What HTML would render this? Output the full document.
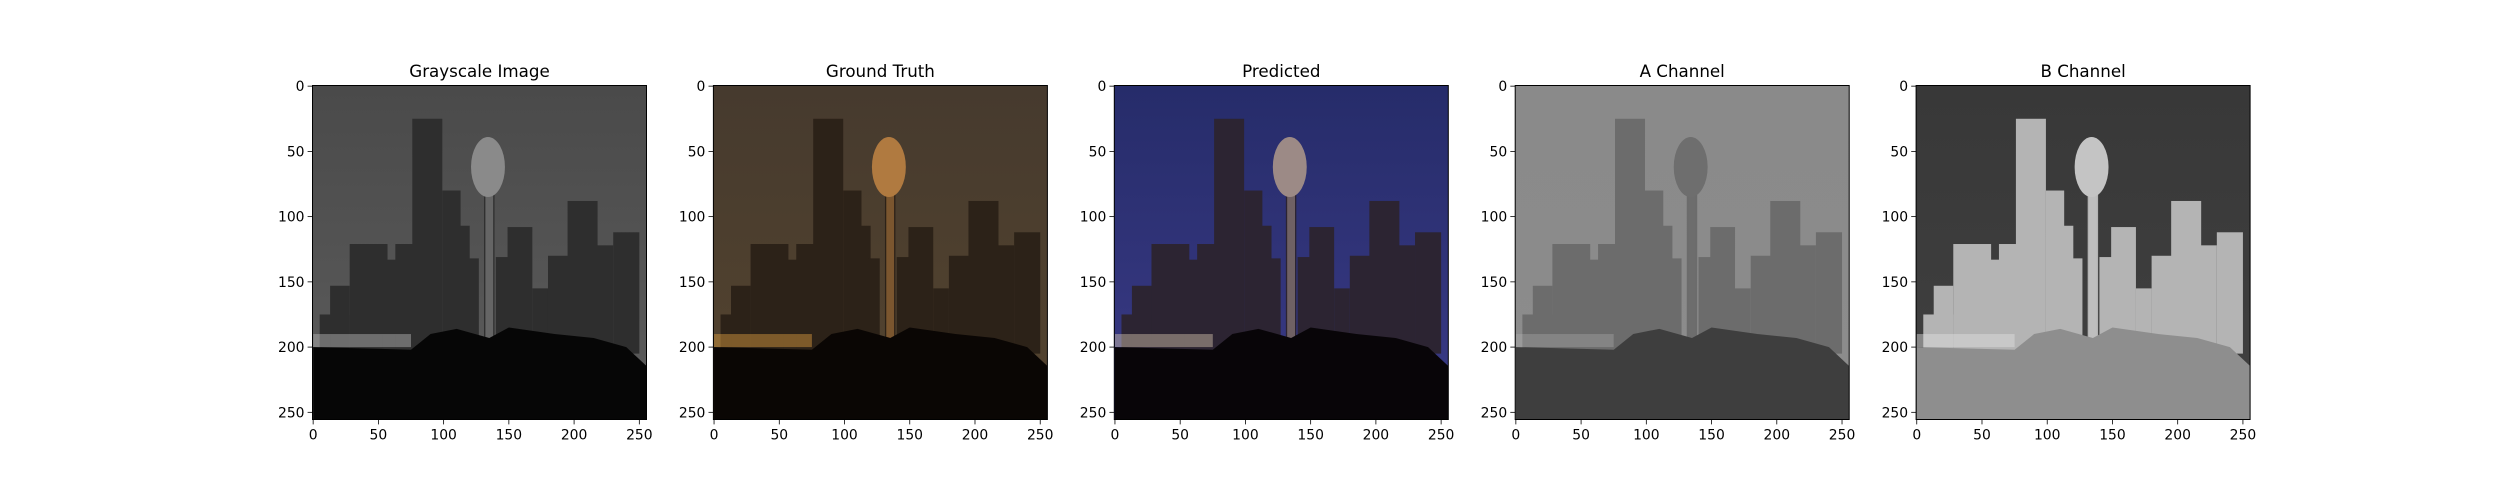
<!DOCTYPE html>
<html><head><meta charset="utf-8">
<style>
html,body{margin:0;padding:0;background:#fff;}
svg{display:block;font-family:"DejaVu Sans","Liberation Sans",sans-serif;}
</style></head>
<body>
<svg id="fig" width="2500" height="500" viewBox="0 0 2500 500" xmlns="http://www.w3.org/2000/svg">
<rect width="2500" height="500" fill="#fff"/>
</svg>
<script>
// Panel data
const titles = ["Grayscale Image","Ground Truth","Predicted","A Channel","B Channel"];
const xTicks = [0,50,100,150,200,250];
const yTicks = [0,50,100,150,200,250];
// buildings: left, right, top (image pixel coords)
const bLeft  = [5, 13, 28, 53, 63, 76, 99, 112, 118, 131, 140, 149, 168, 180, 195, 216, 230];
const bRight = [28,28, 57, 68, 82, 99, 113,120, 127, 139, 150, 168, 180, 200, 218, 230, 250];
const bTop   = [175,153,121,133,121,25, 80, 107, 132, 80, 131, 108, 155, 130, 88, 122, 112];
// palettes per panel: sky top, sky bottom, building, ground, ball, lights
const skyTop    = ["#4a4a4a","#463a2e","#262c6a","#8a8a8a","#383838"];
const skyBot    = ["#5c5c5c","#54442f","#3a3a86","#8c8c8c","#404040"];
const bldCol    = ["#2e2e2e","#2c2218","#2c2432","#6c6c6c","#b4b4b4"];
const groundCol = ["#060606","#0a0604","#080508","#3e3e3e","#8e8e8e"];
const ballCol   = ["#8a8a8a","#b07a40","#9c8a86","#6e6e6e","#c4c4c4"];
const lightCol  = ["#bbbbbb","#e0a040","#d8c8b0","#bdbdbd","#e0e0e0"];

const NS="http://www.w3.org/2000/svg";
const fig=document.getElementById('fig');
const axW=334, axTop=85.5;
const axLefts=[312.5,713.4,1114.3,1515.2,1916.1];
function mk(tag,attrs,parent){const e=document.createElementNS(NS,tag);for(const k in attrs)e.setAttribute(k,attrs[k]);parent.appendChild(e);return e;}

titles.forEach((t,i)=>{
  const L=axLefts[i];
  const sx=v=>L+(v+0.5)/256*axW;
  const sy=v=>axTop+(v+0.5)/256*axW;
  const sc=axW/256;
  const g=mk('g',{},fig);
  
  
  const defs=mk('defs',{},g);
  const lg=mk('linearGradient',{id:'sky'+i,x1:0,y1:0,x2:0,y2:1},defs);
  mk('stop',{offset:'0','stop-color':skyTop[i]},lg);
  mk('stop',{offset:'1','stop-color':skyBot[i]},lg);
  const cp=mk('clipPath',{id:'cp'+i},defs);
  mk('rect',{x:L,y:axTop,width:axW,height:axW},cp);
  const img=mk('g',{'clip-path':'url(#cp'+i+')'},g);
  
  
  mk('rect',{x:L,y:axTop,width:axW,height:axW,fill:'url(#sky'+i+')'},img);
  for(let k=0;k<bLeft.length;k++){
    const r=mk('rect',{x:sx(bLeft[k]),y:sy(bTop[k]),width:(bRight[k]-bLeft[k])*sc,height:(205-bTop[k])*sc,fill:bldCol[i]},img);
    
    
  }
  const ball=mk('ellipse',{cx:sx(134),cy:sy(62),rx:13*sc,ry:23*sc,fill:ballCol[i]},img);
  
  
  mk('rect',{x:sx(132),y:sy(82),width:6*sc,height:120*sc,fill:ballCol[i],opacity:0.6},img);
  // highway band
  mk('rect',{x:sx(0),y:sy(190),width:75*sc,height:10*sc,fill:lightCol[i],opacity:i==3?0.3:0.45},img);
  // trees + ground
  const tree=mk('path',{d:`M${sx(0)},${sy(200)} L${sx(75)},${sy(202)} L${sx(90)},${sy(190)} L${sx(110)},${sy(186)} L${sx(135)},${sy(193)} L${sx(150)},${sy(185)} L${sx(185)},${sy(190)} L${sx(215)},${sy(193)} L${sx(240)},${sy(200)} L${sx(256)},${sy(215)} L${sx(256)},${sy(256)} L${sx(0)},${sy(256)} Z`,fill:groundCol[i]},img);
  
  
  mk('rect',{x:L,y:axTop,width:axW,height:axW,fill:'none',stroke:'#000','stroke-width':1},g);
  const tt=mk('text',{x:L+axW/2,y:77,'text-anchor':'middle','font-size':'16.7px',fill:'#000'},g);
  tt.textContent=t;
  
  
  xTicks.forEach(v=>{
    mk('line',{x1:sx(v),x2:sx(v),y1:axTop+axW,y2:axTop+axW+4.9,stroke:'#000','stroke-width':0.8},g);
    const tx=mk('text',{x:sx(v),y:axTop+axW+20,'text-anchor':'middle','font-size':'13.9px'},g);
    tx.textContent=v;
    
    
  });
  yTicks.forEach(v=>{
    mk('line',{x1:L-4.9,x2:L,y1:sy(v),y2:sy(v),stroke:'#000','stroke-width':0.8},g);
    const ty=mk('text',{x:L-8,y:sy(v)+5,'text-anchor':'end','font-size':'13.9px'},g);
    ty.textContent=v;
    
    
  });
});
</script>
</body></html>
